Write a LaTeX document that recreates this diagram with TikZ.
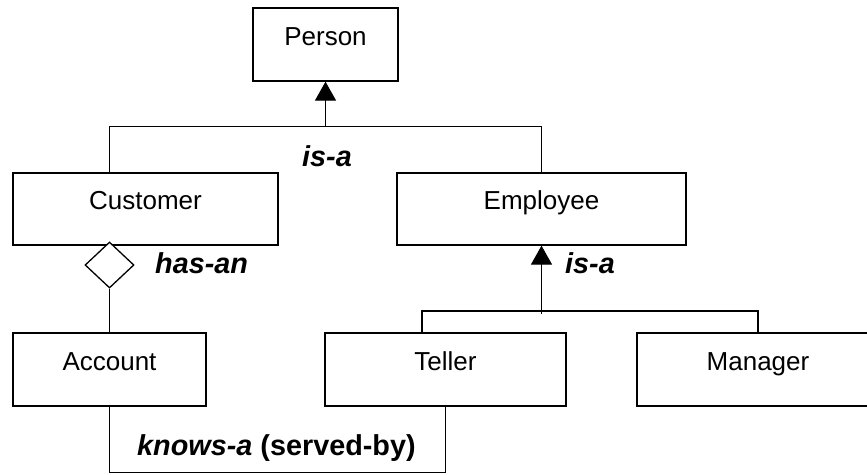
\documentclass[tikz,border=0pt]{standalone}
\usepackage{fontspec}
\setmainfont{Liberation Sans}
\usetikzlibrary{shapes.geometric,arrows.meta}
\tikzset{
  box/.style={draw, line width=1.3pt, rectangle, inner sep=0pt},
  boxtext/.style={anchor=base, inner sep=0pt, font=\fontsize{26}{30}\selectfont},
  rel/.style={anchor=base west, inner sep=0pt, font=\fontsize{28.8}{33}\selectfont\bfseries},
  conn/.style={line width=1.3pt},
  isa/.style={line width=1.3pt, -{Triangle[length=19pt,width=21pt]}},
  dia/.style={draw, line width=1.3pt, diamond, inner sep=0pt, minimum width=49pt, minimum height=46pt, fill=white}
}
\begin{document}
\begin{tikzpicture}[x=1pt, y={(0pt,-1pt)}]
\useasboundingbox (0,0) rectangle (867,474);
\clip (0,0) rectangle (867,474);
% boxes
\node[box, minimum width=145pt, minimum height=73pt] (person) at (325.5,44.5) {};
\node[box, minimum width=265pt, minimum height=72pt] (customer) at (145.5,209) {};
\node[box, minimum width=289pt, minimum height=72pt] (employee) at (541.5,209) {};
\node[box, minimum width=193pt, minimum height=73pt] (account) at (109.5,369.5) {};
\node[box, minimum width=241pt, minimum height=73pt] (teller) at (445.5,369.5) {};
\node[box, minimum width=242pt, minimum height=73pt] (manager) at (758,369.5) {};
% box texts
\node[boxtext] (tperson) at (325.5,45) {Person};
\node[boxtext] (tcustomer) at (145.5,209) {Customer};
\node[boxtext] (temployee) at (541.5,209) {Employee};
\node[boxtext] (taccount) at (109.5,370) {Account};
\node[boxtext] (tteller) at (445.5,370) {Teller};
\node[boxtext] (tmanager) at (758,370) {Manager};
% top generalisation
\coordinate (topbar) at (0,126.5);
\draw[conn] (customer.north -| account.north) |- (employee.north |- topbar) -- (employee.north);
\draw[isa] (person.south |- topbar) -- (person.south);
% has-an aggregation
\node[dia] (dm) at (109.5,265) {};
\draw[conn] (dm.south) -- (account.north);
% employee generalisation
\coordinate (midbar) at (0,311);
\coordinate (tj) at (422,311);
\draw[isa] (employee.south |- 0,314) -- (employee.south);
\draw[conn] (teller.north -| tj) -- (tj) -- (manager.north |- midbar) -- (manager.north);
% knows-a
\coordinate (botbar) at (0,472.8);
\draw[conn] (account.south) -- (account.south |- botbar) -| (teller.south);
% labels
\node[rel] (l1) at (302,166) {\itshape is-a};
\node[rel] (l2) at (155,273) {\itshape has-an};
\node[rel] (l3) at (565,273) {\itshape is-a};
\node[rel] (l4) at (137,455) {\textit{knows-a} (served-by)};
\end{tikzpicture}
\end{document}
